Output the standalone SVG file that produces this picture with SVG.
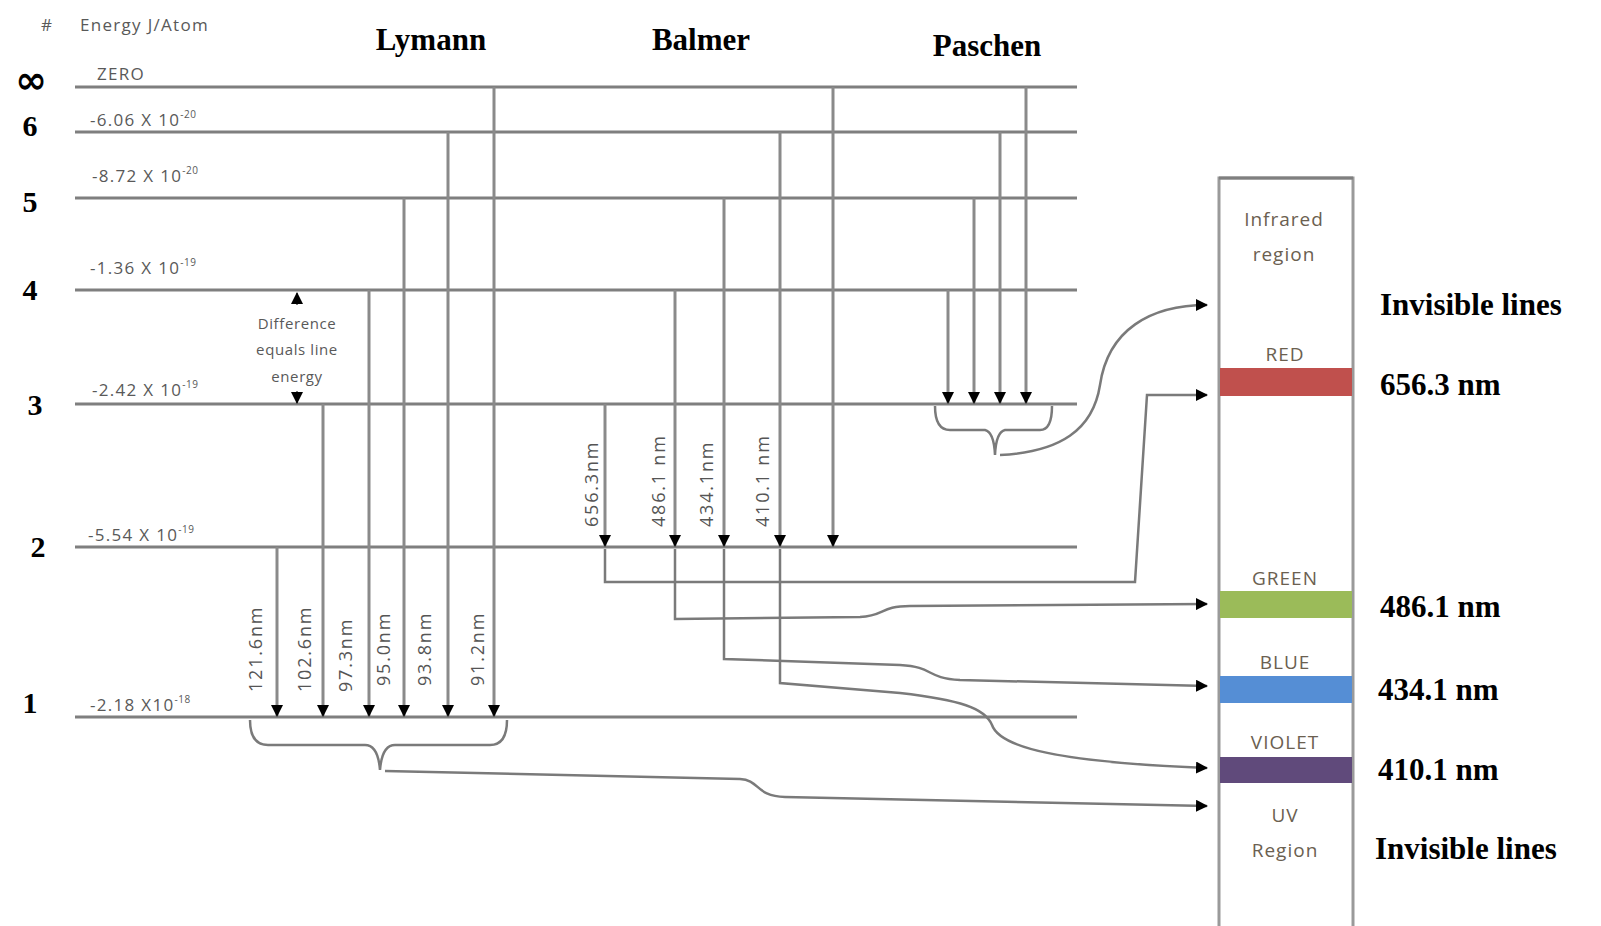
<svg xmlns="http://www.w3.org/2000/svg" width="1601" height="926" viewBox="0 0 1601 926">
<style>
.lvl{stroke:#7f7f7f;stroke-width:3;fill:none}
.arr{stroke:#8a8a8a;stroke-width:3;fill:none}
.con{stroke:#7a7a7a;stroke-width:2.5;fill:none}
.num{font-family:"Liberation Serif",serif;font-weight:bold;font-size:30px;fill:#000}
.hd{font-family:"Liberation Serif",serif;font-weight:bold;font-size:31px;fill:#000}
.en{font-family:"Open Sans","DejaVu Sans",sans-serif;font-size:17px;letter-spacing:1.3px;fill:#595959}
.sup{font-size:10px;letter-spacing:0.5px}
.nm{font-family:"Open Sans","DejaVu Sans",sans-serif;font-size:18px;letter-spacing:1.8px;fill:#555}
.df{font-family:"Open Sans","DejaVu Sans",sans-serif;font-size:15px;letter-spacing:0.6px;fill:#595959;text-anchor:middle}
.box{font-family:"Open Sans","DejaVu Sans",sans-serif;font-size:19px;letter-spacing:1px;fill:#6b6050;text-anchor:middle}
.rl{font-family:"Liberation Serif",serif;font-weight:bold;font-size:31px;fill:#000}
</style>
<defs>
<marker id="ah" markerUnits="userSpaceOnUse" markerWidth="12" markerHeight="12" refX="11" refY="6" orient="auto">
<path d="M0,0 L12,6 L0,12 z" fill="#000"/>
</marker>
</defs>
<rect width="1601" height="926" fill="#fff"/>

<g id="header">
<text x="41" y="31" class="en" font-size="14">#</text>
<text x="80" y="31" class="en">Energy J/Atom</text>
<text x="431" y="50" class="hd" text-anchor="middle">Lymann</text>
<text x="701" y="50" class="hd" text-anchor="middle">Balmer</text>
<text x="987" y="56" class="hd" text-anchor="middle">Paschen</text>
</g>

<g id="levels">
<line x1="75" y1="87" x2="1077" y2="87" class="lvl"/>
<line x1="75" y1="132" x2="1077" y2="132" class="lvl"/>
<line x1="75" y1="198" x2="1077" y2="198" class="lvl"/>
<line x1="75" y1="290" x2="1077" y2="290" class="lvl" stroke-width="2"/>
<line x1="75" y1="404" x2="1077" y2="404" class="lvl"/>
<line x1="75" y1="547" x2="1077" y2="547" class="lvl"/>
<line x1="75" y1="717" x2="1077" y2="717" class="lvl"/>
</g>

<g id="level-numbers">
<text x="31" y="93" font-family="DejaVu Sans,sans-serif" font-weight="bold" font-size="38" text-anchor="middle" fill="#000">∞</text>
<text x="30" y="136" class="num" text-anchor="middle">6</text>
<text x="30" y="212" class="num" text-anchor="middle">5</text>
<text x="30" y="300" class="num" text-anchor="middle">4</text>
<text x="35" y="415" class="num" text-anchor="middle">3</text>
<text x="38" y="557" class="num" text-anchor="middle">2</text>
<text x="30" y="713" class="num" text-anchor="middle">1</text>
</g>

<g id="energies">
<text x="97" y="80" class="en">ZERO</text>
<text x="90" y="126" class="en">-6.06 X 10<tspan class="sup" dy="-8">-20</tspan></text>
<text x="92" y="182" class="en">-8.72 X 10<tspan class="sup" dy="-8">-20</tspan></text>
<text x="90" y="274" class="en">-1.36 X 10<tspan class="sup" dy="-8">-19</tspan></text>
<text x="92" y="396" class="en">-2.42 X 10<tspan class="sup" dy="-8">-19</tspan></text>
<text x="88" y="541" class="en">-5.54 X 10<tspan class="sup" dy="-8">-19</tspan></text>
<text x="90" y="711" class="en">-2.18 X10<tspan class="sup" dy="-8">-18</tspan></text>
</g>

<g id="difference-note">
<line x1="297" y1="305" x2="297" y2="293" stroke="#000" stroke-width="1" marker-end="url(#ah)"/>
<line x1="297" y1="391" x2="297" y2="403" stroke="#000" stroke-width="1" marker-end="url(#ah)"/>
<text x="297" y="329" class="df">Difference</text>
<text x="297" y="355" class="df">equals line</text>
<text x="297" y="382" class="df">energy</text>
</g>

<g id="connectors">
<!-- Lyman -->
<line x1="277" y1="547" x2="277" y2="716" class="arr" marker-end="url(#ah)"/>
<line x1="323" y1="404" x2="323" y2="716" class="arr" marker-end="url(#ah)"/>
<line x1="369" y1="290" x2="369" y2="716" class="arr" marker-end="url(#ah)"/>
<line x1="404" y1="198" x2="404" y2="716" class="arr" marker-end="url(#ah)"/>
<line x1="448" y1="132" x2="448" y2="716" class="arr" marker-end="url(#ah)"/>
<line x1="494" y1="87" x2="494" y2="716" class="arr" marker-end="url(#ah)"/>
<!-- Balmer -->
<line x1="605" y1="404" x2="605" y2="546" class="arr" marker-end="url(#ah)"/>
<line x1="675" y1="290" x2="675" y2="546" class="arr" marker-end="url(#ah)"/>
<line x1="724" y1="198" x2="724" y2="546" class="arr" marker-end="url(#ah)"/>
<line x1="780" y1="132" x2="780" y2="546" class="arr" marker-end="url(#ah)"/>
<line x1="833" y1="87" x2="833" y2="546" class="arr" marker-end="url(#ah)"/>
<!-- Paschen -->
<line x1="948" y1="290" x2="948" y2="403" class="arr" marker-end="url(#ah)"/>
<line x1="974" y1="198" x2="974" y2="403" class="arr" marker-end="url(#ah)"/>
<line x1="1000" y1="132" x2="1000" y2="403" class="arr" marker-end="url(#ah)"/>
<line x1="1026" y1="87" x2="1026" y2="403" class="arr" marker-end="url(#ah)"/>
<!-- braces -->
<path d="M250,720 Q250,745 268,745 L365,745 Q378,745 380,770 Q382,745 395,745 L490,745 Q507,745 507,720" class="con"/>
<path d="M935,406 Q935,430 950,430 L985,430 Q994,432 995,455 Q996,432 1005,430 L1040,430 Q1052,430 1052,406" class="con"/>
<!-- to spectrum -->
<path d="M1000,455 C1060,452 1093,430 1100,385 C1108,330 1150,305 1207,305" class="con" marker-end="url(#ah)"/>
<path d="M605,549 L605,582 L1135,582 L1147,395 L1207,395" class="con" marker-end="url(#ah)"/>
<path d="M675,549 L675,619 L860,617 C885,616 880,606 910,606 L1207,604" class="con" marker-end="url(#ah)"/>
<path d="M724,549 L724,659 L900,665 C935,667 925,678 960,680 L1207,686" class="con" marker-end="url(#ah)"/>
<path d="M780,549 L780,683 L900,693 C960,700 985,708 992,725 C1000,748 1060,762 1207,768" class="con" marker-end="url(#ah)"/>
<path d="M385,771 L740,779 C760,780 755,796 785,797 L1207,806" class="con" marker-end="url(#ah)"/>
</g>

<g id="line-labels">
<text class="nm" transform="translate(262,692) rotate(-90)">121.6nm</text>
<text class="nm" transform="translate(311,692) rotate(-90)">102.6nm</text>
<text class="nm" transform="translate(352,692) rotate(-90)">97.3nm</text>
<text class="nm" transform="translate(390,686) rotate(-90)">95.0nm</text>
<text class="nm" transform="translate(431,686) rotate(-90)">93.8nm</text>
<text class="nm" transform="translate(484,686) rotate(-90)">91.2nm</text>
<text class="nm" transform="translate(598,527) rotate(-90)">656.3nm</text>
<text class="nm" transform="translate(665,527) rotate(-90)">486.1 nm</text>
<text class="nm" transform="translate(713,527) rotate(-90)">434.1nm</text>
<text class="nm" transform="translate(769,527) rotate(-90)">410.1 nm</text>
</g>

<g id="spectrum">
<rect x="1219" y="178" width="134" height="760" fill="#fff" stroke="#9a9a9a" stroke-width="3"/>
<line x1="1219" y1="178" x2="1353" y2="178" stroke="#7f7f7f" stroke-width="3"/>
<rect x="1220" y="368" width="132" height="28" fill="#C0504D"/>
<rect x="1220" y="591" width="132" height="27" fill="#9BBB59"/>
<rect x="1220" y="676" width="132" height="27" fill="#558ED5"/>
<rect x="1220" y="757" width="132" height="26" fill="#604A7B"/>
<text x="1284" y="226" class="box">Infrared</text>
<text x="1284" y="261" class="box">region</text>
<text x="1285" y="361" class="box">RED</text>
<text x="1285" y="585" class="box">GREEN</text>
<text x="1285" y="669" class="box">BLUE</text>
<text x="1285" y="749" class="box">VIOLET</text>
<text x="1285" y="822" class="box">UV</text>
<text x="1285" y="857" class="box">Region</text>
</g>

<g id="right-labels">
<text x="1380" y="315" class="rl">Invisible lines</text>
<text x="1380" y="395" class="rl">656.3 nm</text>
<text x="1380" y="617" class="rl">486.1 nm</text>
<text x="1378" y="700" class="rl">434.1 nm</text>
<text x="1378" y="780" class="rl">410.1 nm</text>
<text x="1375" y="859" class="rl">Invisible lines</text>
</g>
</svg>
